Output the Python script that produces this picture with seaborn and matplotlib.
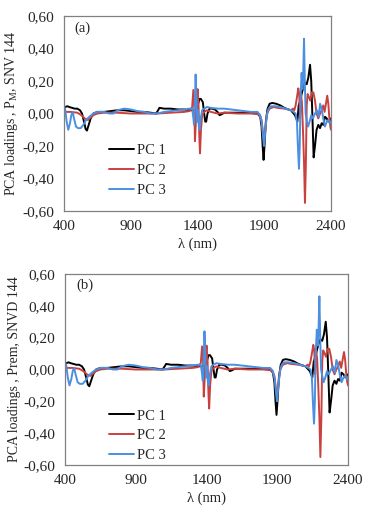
import pandas as pd
import matplotlib
matplotlib.use("Agg")
import matplotlib.pyplot as plt
import seaborn as sns
from matplotlib.ticker import FuncFormatter, FixedLocator

sns.set_style("white")
plt.rcParams['font.family'] = ['Liberation Serif', 'DejaVu Serif']

# PC loadings (wavelength in nm, loading)
pc1_wl = [400, 410, 425, 440, 460, 480, 500, 520, 535, 550, 562, 572, 585, 600, 620, 650, 700, 750,
          800, 850, 900, 950, 1000, 1050, 1090, 1105, 1115, 1150, 1200, 1250, 1300, 1350, 1380, 1395,
          1405, 1415, 1425, 1440, 1450, 1458, 1465, 1475, 1490, 1510, 1530, 1550, 1565, 1580, 1600,
          1650, 1700, 1750, 1800, 1850, 1870, 1880, 1888, 1895, 1902, 1912, 1925, 1940, 1960, 1990,
          2020, 2050, 2080, 2100, 2115, 2130, 2140, 2148, 2158, 2170, 2180, 2192, 2205, 2218, 2230,
          2243, 2252, 2262, 2270, 2280, 2292, 2305, 2318, 2330, 2342, 2355, 2368, 2380, 2392, 2400]
pc1_val = [0.03, 0.04, 0.045, 0.04, 0.035, 0.03, 0.03, 0.02, 0.0, -0.05, -0.095, -0.105, -0.07, -0.03,
           0.0, 0.01, 0.01, 0.015, 0.02, 0.02, 0.015, 0.01, 0.01, 0.005, 0.0, 0.02, 0.035, 0.03, 0.03,
           0.025, 0.025, 0.02, 0.02, 0.03, 0.06, 0.09, 0.09, 0.07, 0.0, -0.05, -0.05, 0.0, 0.03, 0.03,
           0.025, 0.01, -0.01, -0.005, 0.005, 0.005, 0.005, 0.005, 0.005, 0.0, -0.02, -0.08, -0.2,
           -0.285, -0.2, -0.05, 0.03, 0.06, 0.065, 0.06, 0.05, 0.035, 0.025, 0.02, 0.005, -0.01, -0.03,
           -0.05, 0.05, 0.08, 0.12, 0.16, 0.19, 0.18, 0.22, 0.30, 0.2, -0.05, -0.27, -0.2, -0.1, -0.07,
           -0.09, -0.06, -0.07, -0.02, -0.03, -0.05, -0.04, -0.03]

pc2_wl = [400, 450, 500, 530, 555, 580, 600, 620, 650, 700, 800, 900, 1000, 1100, 1200, 1300, 1340,
          1360, 1369, 1376, 1381, 1388, 1395, 1401, 1408, 1414, 1419, 1426, 1435, 1450, 1470, 1500,
          1550, 1600, 1700, 1800, 1860, 1880, 1893, 1900, 1908, 1920, 1940, 1970, 2000, 2050, 2080,
          2100, 2115, 2125, 2135, 2145, 2155, 2162, 2168, 2175, 2182, 2190, 2198, 2205, 2212, 2218,
          2225, 2235, 2245, 2255, 2268, 2280, 2292, 2305, 2318, 2330, 2342, 2352, 2362, 2372, 2380,
          2388, 2395, 2400]
pc2_val = [0.01, 0.01, 0.005, -0.01, -0.03, -0.04, -0.025, -0.01, 0.0, 0.005, 0.005, 0.0, 0.0, 0.0,
           0.005, 0.01, 0.015, 0.04, 0.145, 0.05, -0.17, -0.05, 0.1, 0.15, 0.05, -0.15, -0.245, -0.1,
           -0.01, 0.01, 0.02, 0.01, 0.0, 0.005, 0.0, 0.0, -0.005, -0.04, -0.14, -0.17, -0.1, 0.0, 0.03,
           0.04, 0.035, 0.03, 0.025, 0.02, 0.03, 0.02, 0.05, 0.1, 0.155, 0.12, -0.03, 0.12, 0.07, -0.1,
           -0.3, -0.55, -0.3, 0.05, 0.12, 0.1, 0.08, 0.13, 0.13, 0.08, 0.0, -0.03, 0.0, 0.02, 0.05,
           0.01, 0.06, 0.11, 0.06, -0.03, -0.08, -0.1]

pc3_wl = [400, 410, 420, 432, 445, 455, 465, 475, 490, 505, 525, 545, 565, 590, 620, 650, 700, 740,
          770, 800, 850, 900, 950, 1000, 1050, 1100, 1150, 1200, 1250, 1300, 1340, 1360, 1368, 1374,
          1380, 1386, 1392, 1398, 1404, 1410, 1416, 1424, 1435, 1450, 1470, 1500, 1550, 1600, 1650,
          1700, 1750, 1800, 1850, 1870, 1882, 1892, 1898, 1906, 1918, 1932, 1950, 1980, 2020, 2060,
          2100, 2120, 2135, 2145, 2152, 2160, 2166, 2172, 2180, 2186, 2192, 2198, 2204, 2210, 2218,
          2228, 2240, 2252, 2265, 2280, 2295, 2308, 2318, 2330, 2342, 2355, 2368, 2380, 2392, 2400]
pc3_val = [0.05, 0.02, -0.05, -0.1, -0.06, -0.01, 0.01, -0.03, -0.08, -0.09, -0.09, -0.07, -0.04,
           -0.02, 0.0, 0.01, 0.01, 0.0, 0.0, 0.02, 0.03, 0.025, 0.015, 0.01, 0.0, 0.0, 0.01, 0.015,
           0.02, 0.025, 0.03, 0.03, -0.02, -0.07, 0.05, 0.24, 0.1, -0.05, 0.02, -0.08, -0.1, -0.03,
           0.02, 0.03, 0.04, 0.035, 0.03, 0.03, 0.025, 0.02, 0.015, 0.01, 0.01, -0.01, -0.06, -0.15,
           -0.2, -0.12, -0.02, 0.03, 0.045, 0.045, 0.04, 0.03, 0.02, 0.01, 0.0, -0.05, -0.2, -0.34,
           -0.2, 0.1, 0.25, 0.15, 0.25, 0.46, 0.2, 0.0, -0.04, -0.08, -0.05, -0.01, -0.03, 0.0, 0.02,
           -0.02, 0.06, 0.03, -0.03, -0.08, -0.05, -0.04, -0.06, -0.05]

series_names = ['PC 1', 'PC 2', 'PC 3']
colors = ['#000000', '#C9413F', '#4A8FE0']
x_ticks = [400, 900, 1400, 1900, 2400]
y_ticks = [-0.6, -0.4, -0.2, 0.0, 0.2, 0.4, 0.6]

df = pd.concat([
    pd.DataFrame({'wl': pc1_wl, 'val': pc1_val, 'PC': 'PC 1'}),
    pd.DataFrame({'wl': pc2_wl, 'val': pc2_val, 'PC': 'PC 2'}),
    pd.DataFrame({'wl': pc3_wl, 'val': pc3_val, 'PC': 'PC 3'}),
])

fig = plt.figure(figsize=(3.69, 5.16), dpi=100)
ax_a = fig.add_axes([0.1734, 0.591, 0.7236, 0.378])
ax_b = fig.add_axes([0.176, 0.0988, 0.767, 0.3702])

panels = [(ax_a, '(a)', 'PCA loadings , P$_\\mathregular{M}$, SNV 144', (0.12, 0.41)),
          (ax_b, '(b)', 'PCA loadings , Prem, SNVD 144', (0.11, 0.36))]

comma = FuncFormatter(lambda v, p: '{:.2f}'.format(v).replace('.', ','))

for ax, tag, ylab, leg_pos in panels:
    sns.lineplot(data=df, x='wl', y='val', hue='PC', hue_order=series_names,
                 palette=colors, ax=ax, sort=False, estimator=None, linewidth=1.4)
    ax.set_xlim(400, 2400)
    ax.set_ylim(-0.6, 0.6)
    ax.xaxis.set_major_locator(FixedLocator(x_ticks))
    ax.yaxis.set_major_locator(FixedLocator(y_ticks))
    ax.yaxis.set_major_formatter(comma)
    ax.tick_params(axis='y', direction='out', length=4, color='#808080', labelsize=11, pad=3)
    ax.tick_params(axis='x', direction='inout', length=5, color='#808080', labelsize=11, pad=4)
    for s in ax.spines.values():
        s.set_color('#808080')
        s.set_linewidth(0.9)
    ax.set_xlabel('λ (nm)', fontsize=10.5, labelpad=3)
    ax.set_ylabel(ylab, fontsize=10, labelpad=2)
    ax.text(0.04, 0.92, tag, transform=ax.transAxes, fontsize=10.5)
    ax.legend(loc='upper left', bbox_to_anchor=leg_pos, frameon=False, fontsize=10.5,
              handlelength=1.7, handletextpad=0.2, labelspacing=0.45)

fig.savefig('out.png', dpi=100)
